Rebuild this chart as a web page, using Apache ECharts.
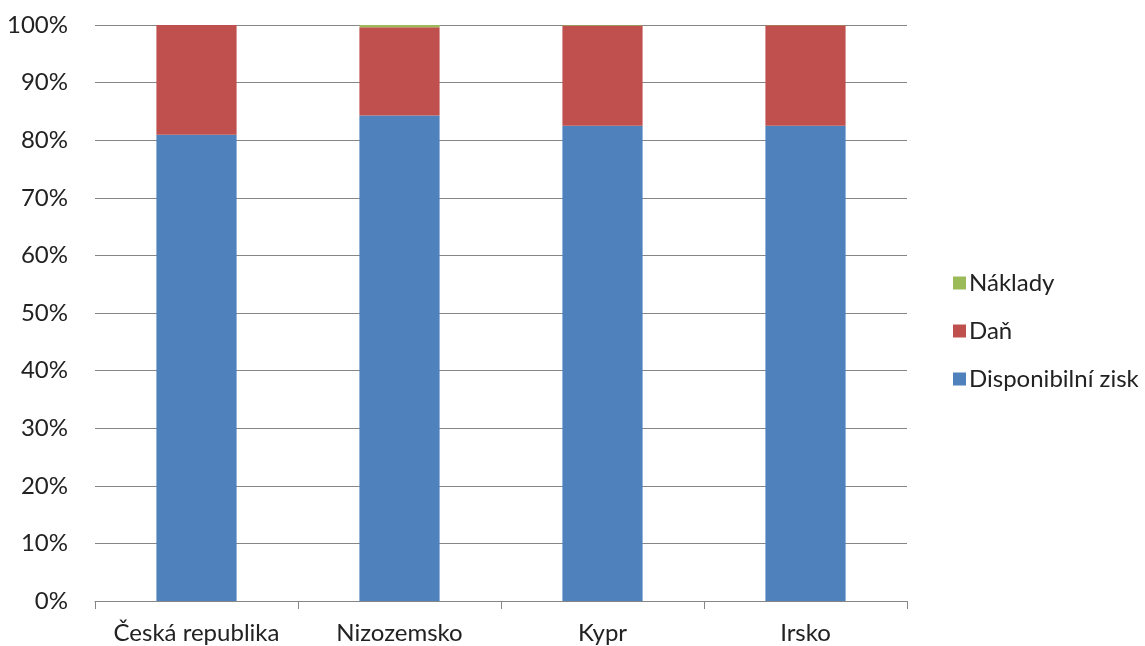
<!DOCTYPE html>
<html>
<head>
<meta charset="utf-8">
<script src="https://cdn.jsdelivr.net/npm/echarts@6/dist/echarts.min.js"></script>
<style>
  html, body { margin: 0; padding: 0; background: #fff; }
  #chart { width: 1145px; height: 646px; }
</style>
</head>
<body>
<div id="chart"></div>
<script>
// Shares of profit per country (percent)
const categories = ['Česká republika', 'Nizozemsko', 'Kypr', 'Irsko'];
const disponibilniZisk = [80.95, 84.3, 82.5, 82.5];
const dan = [19.05, 15.3, 17.4, 17.45];
const naklady = [0, 0.4, 0.1, 0.05];
const yTicks = [0, 10, 20, 30, 40, 50, 60, 70, 80, 90, 100];

const font = 'Lato, "Open Sans", sans-serif';
const fontSize = 24;
const chart = echarts.init(document.getElementById('chart'));

chart.setOption({
  animation: false,
  textStyle: { fontFamily: font },
  grid: { left: 95, right: 238, top: 25, bottom: 45, containLabel: false },
  legend: {
    orient: 'vertical',
    left: 948,
    top: 266,
    itemWidth: 13,
    itemHeight: 13,
    itemGap: 24,
    icon: 'rect',
    textStyle: { fontSize: fontSize, color: '#222', fontFamily: font, padding: [0, 0, 0, -2] },
    data: ['Náklady', 'Daň', 'Disponibilní zisk']
  },
  xAxis: {
    type: 'category',
    data: categories,
    axisLine: { lineStyle: { color: '#868686', width: 1 } },
    axisTick: { show: true, interval: 0, length: 8, alignWithLabel: false, lineStyle: { color: '#868686' } },
    axisLabel: { interval: 0, fontSize: fontSize, color: '#222', margin: 20, fontFamily: font }
  },
  yAxis: {
    type: 'value',
    min: yTicks[0],
    max: yTicks[yTicks.length - 1],
    interval: 10,
    axisLine: { show: false },
    axisTick: { show: false },
    splitLine: { lineStyle: { color: '#868686', width: 1 } },
    axisLabel: { fontSize: fontSize, color: '#222', margin: 27, fontFamily: font, formatter: v => v + '%' }
  },
  series: [
    { name: 'Disponibilní zisk', type: 'bar', stack: 'total', data: disponibilniZisk, barWidth: '39.5%', itemStyle: { color: '#4F81BD' } },
    { name: 'Daň', type: 'bar', stack: 'total', data: dan, itemStyle: { color: '#C0504D' } },
    { name: 'Náklady', type: 'bar', stack: 'total', data: naklady, itemStyle: { color: '#9BBB59' } }
  ]
});
</script>
</body>
</html>
